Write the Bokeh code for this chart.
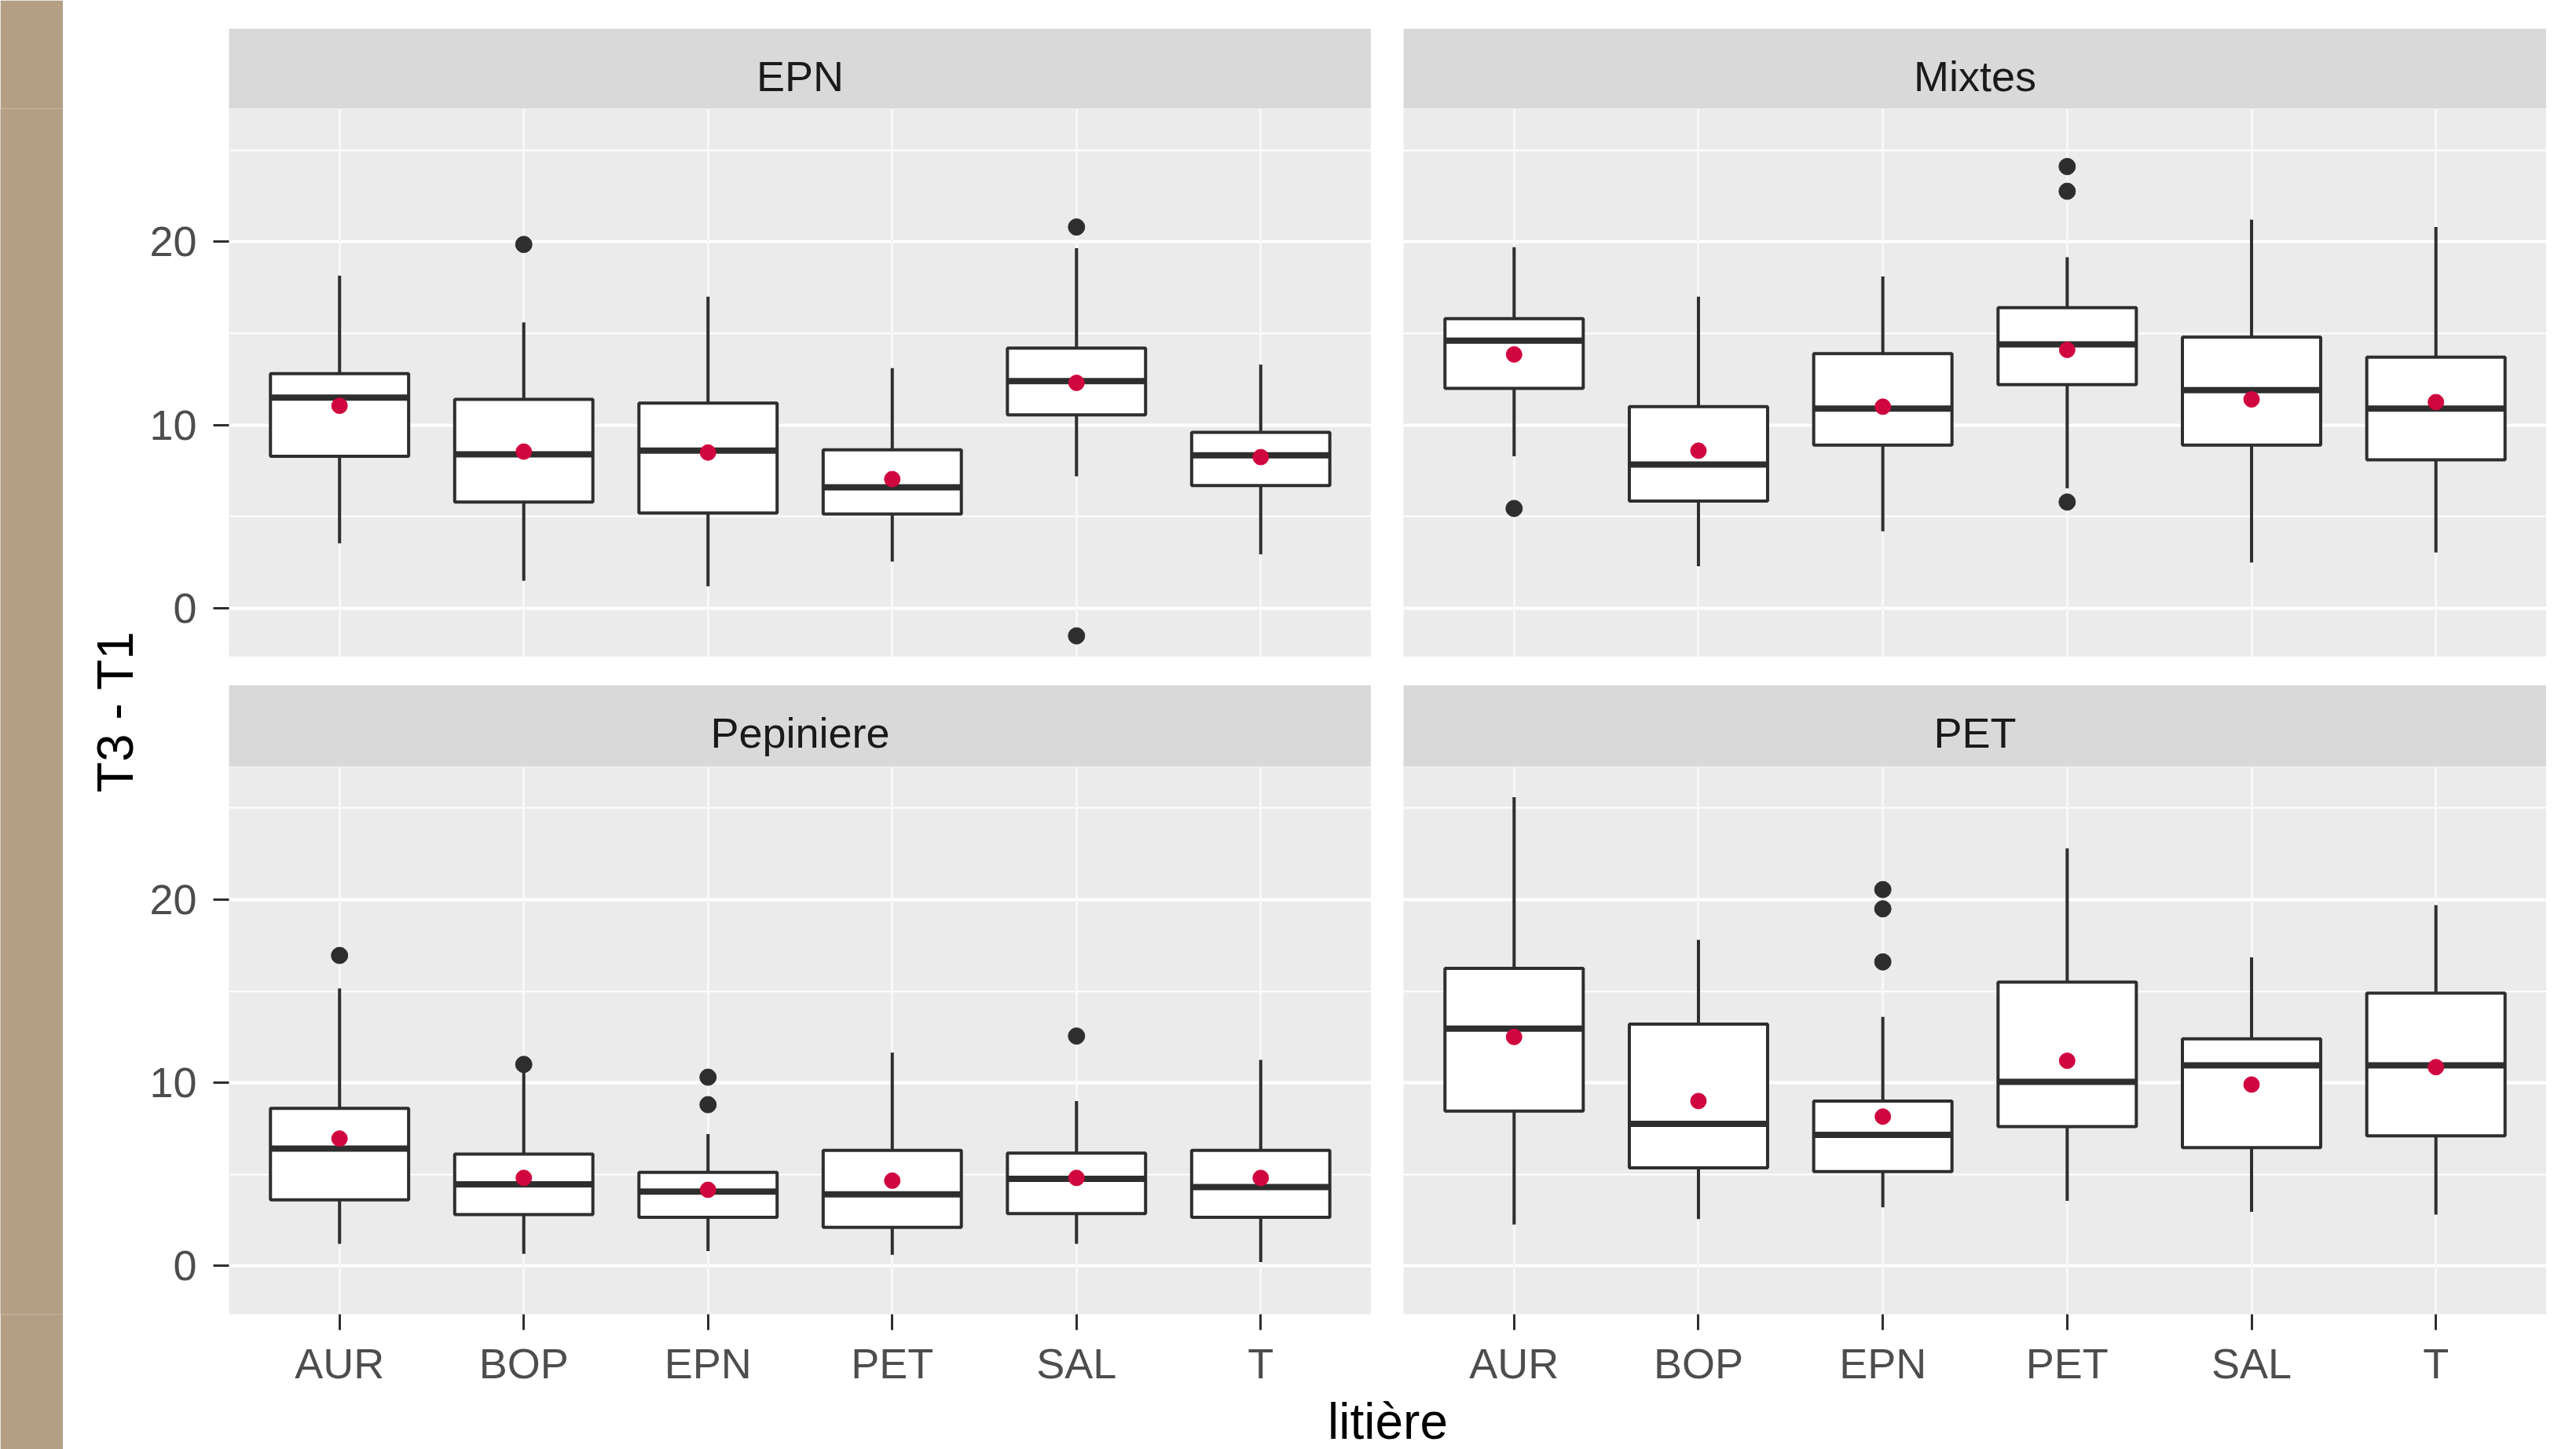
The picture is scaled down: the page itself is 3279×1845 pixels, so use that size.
from bokeh.plotting import figure
from bokeh.layouts import row, column
from bokeh.models import (ColumnDataSource, FactorRange, Range1d, SingleIntervalTicker,
                          CategoricalTicker, Grid, CategoricalAxis, LinearAxis, FixedTicker)
from bokeh.transform import dodge
from bokeh.core.properties import value
from bokeh.embed import file_html
from bokeh.resources import INLINE

# ---------------- data ----------------
cats = ["AUR", "BOP", "EPN", "PET", "SAL", "T"]
facets = ["EPN", "Mixtes", "Pepiniere", "PET"]
x_title = "litière"
y_title = "T3 - T1"

EPN_lo = [3.55, 1.5, 1.2, 2.55, 7.2, 2.95]
EPN_q1 = [8.3, 5.8, 5.2, 5.15, 10.55, 6.7]
EPN_med = [11.5, 8.4, 8.6, 6.6, 12.4, 8.35]
EPN_q3 = [12.8, 11.4, 11.2, 8.65, 14.2, 9.6]
EPN_hi = [18.15, 15.6, 17.0, 13.1, 19.65, 13.3]
EPN_mean = [11.05, 8.55, 8.5, 7.05, 12.3, 8.25]
EPN_out_cat = ["BOP", "SAL", "SAL"]
EPN_out_val = [19.85, 20.8, -1.5]

MIX_lo = [8.3, 2.3, 4.2, 6.55, 2.5, 3.05]
MIX_q1 = [12.0, 5.85, 8.9, 12.2, 8.9, 8.1]
MIX_med = [14.6, 7.85, 10.9, 14.4, 11.9, 10.9]
MIX_q3 = [15.8, 11.0, 13.9, 16.4, 14.8, 13.7]
MIX_hi = [19.7, 17.0, 18.1, 19.15, 21.2, 20.8]
MIX_mean = [13.85, 8.6, 11.0, 14.1, 11.4, 11.25]
MIX_out_cat = ["AUR", "PET", "PET", "PET"]
MIX_out_val = [5.45, 24.1, 22.75, 5.8]

PEP_lo = [1.2, 0.65, 0.8, 0.6, 1.2, 0.2]
PEP_q1 = [3.6, 2.8, 2.65, 2.1, 2.85, 2.65]
PEP_med = [6.4, 4.45, 4.05, 3.9, 4.75, 4.3]
PEP_q3 = [8.6, 6.1, 5.1, 6.3, 6.15, 6.3]
PEP_hi = [15.15, 10.6, 7.2, 11.65, 9.0, 11.25]
PEP_mean = [6.95, 4.8, 4.15, 4.65, 4.8, 4.8]
PEP_out_cat = ["AUR", "BOP", "EPN", "EPN", "SAL"]
PEP_out_val = [16.95, 11.0, 10.3, 8.8, 12.55]

PET_lo = [2.25, 2.55, 3.2, 3.55, 2.95, 2.8]
PET_q1 = [8.45, 5.35, 5.15, 7.6, 6.45, 7.1]
PET_med = [12.95, 7.75, 7.15, 10.05, 10.95, 10.95]
PET_q3 = [16.25, 13.2, 9.0, 15.5, 12.4, 14.9]
PET_hi = [25.6, 17.8, 13.6, 22.8, 16.85, 19.7]
PET_mean = [12.5, 9.0, 8.15, 11.2, 9.9, 10.85]
PET_out_cat = ["EPN", "EPN", "EPN"]
PET_out_val = [20.55, 19.5, 16.6]

# ---------------- style / layout ----------------
FONT = "Liberation Sans"
PANEL_BG = "#ebebeb"
STRIP_BG = "#d9d9d9"
BOX_COL = "#2e2e2e"
MEAN_COL = "#d0063e"
BROWN = "#b49f84"

BAND_W = 80         # brown side band
YT_B, YT_F = 100, 1 # y-title figure: left border (axis title) + tiny frame
L_BORDER = 110      # left border (y axis) of left panels
GAP = 41            # gap between columns
FW_L, FW_R = 1454, 1455
TOP_BAND = 3
STRIP_H1, STRIP_TOP1 = 102, 33
PANEL_H1 = 698
STRIP_H2, STRIP_TOP2 = 104, 36
PANEL_H2, BOTTOM_B = 697, 100
XT_H = 72
TOTAL_H = (TOP_BAND + STRIP_TOP1 + STRIP_H1 + PANEL_H1 + STRIP_TOP2 + STRIP_H2 + PANEL_H2
           + BOTTOM_B + XT_H)
TOTAL_W = L_BORDER + FW_L + GAP + FW_R
RIGHT_W = 3279 - BAND_W - YT_B - YT_F

y_range = Range1d(-2.65, 27.25)


def base_fig(fw, fh, left, top, bottom, border="white", **kw):
    p = figure(frame_width=fw, frame_height=fh, min_border_left=left, min_border_right=0,
               min_border_top=top, min_border_bottom=bottom,
               x_axis_location=None, y_axis_location=None, toolbar_location=None,
               output_backend="svg", border_fill_color=border, outline_line_color=None, **kw)
    p.center = [r for r in p.center if not isinstance(r, Grid)]
    return p


def make_strip(label, fw, fh, left, top, ypos):
    s = base_fig(fw, fh, left, top, 0, x_range=Range1d(0, 1), y_range=Range1d(0, 1),
                 background_fill_color=STRIP_BG)
    s.text(x=[0.5], y=[ypos], text=[label], text_align="center", text_baseline="middle",
           text_font=value(FONT), text_font_size="54px", text_color="#1a1a1a")
    return s


def make_panel(lo, q1, med, q3, hi, mean, out_cat, out_val, fw, fh, left, bottom, show_x, show_y):
    xr = FactorRange(factors=cats, range_padding=0.1, range_padding_units="absolute")
    p = base_fig(fw, fh, left, 0, bottom, x_range=xr, y_range=y_range,
                 background_fill_color=PANEL_BG)
    yticker = SingleIntervalTicker(interval=10, num_minor_ticks=2)
    xticker = CategoricalTicker()
    p.add_layout(Grid(dimension=1, ticker=yticker, grid_line_color="white", grid_line_width=4,
                      minor_grid_line_color="white", minor_grid_line_width=2))
    p.add_layout(Grid(dimension=0, ticker=xticker, grid_line_color="#f8f8f8", grid_line_width=3))
    if show_y:
        ya = LinearAxis(ticker=yticker, axis_line_color=None, major_tick_line_color=BOX_COL,
                        major_tick_line_width=3, major_tick_out=20, major_tick_in=0,
                        minor_tick_line_color=None, major_label_standoff=21,
                        major_label_text_font=FONT, major_label_text_font_size="54px",
                        major_label_text_color="#4d4d4d")
        p.add_layout(ya, "left")
    if show_x:
        xa = CategoricalAxis(ticker=xticker, axis_line_color=None, major_tick_line_color=BOX_COL,
                             major_tick_line_width=3, major_tick_out=20, major_tick_in=0,
                             minor_tick_line_color=None, major_label_standoff=12,
                             major_label_text_font=FONT, major_label_text_font_size="54px",
                             major_label_text_color="#4d4d4d")
        p.add_layout(xa, "below")

    src = ColumnDataSource(dict(cat=cats, lo=lo, q1=q1, med=med, q3=q3, hi=hi, mean=mean))
    p.segment(x0="cat", y0="lo", x1="cat", y1="hi", source=src, line_color=BOX_COL, line_width=4)
    p.vbar(x="cat", bottom="q1", top="q3", width=0.75, source=src, fill_color="white",
           line_color=BOX_COL, line_width=4)
    p.segment(x0=dodge("cat", -0.375, range=xr), y0="med", x1=dodge("cat", 0.375, range=xr),
              y1="med", source=src, line_color=BOX_COL, line_width=8)
    osrc = ColumnDataSource(dict(cat=out_cat, val=out_val))
    p.scatter(x="cat", y="val", source=osrc, size=21, fill_color=BOX_COL, line_color=BOX_COL)
    p.scatter(x="cat", y="mean", source=src, size=20, fill_color=MEAN_COL, line_color=MEAN_COL)
    return p


# geometry of the y-title column (frame = panel area, strips excluded)
yt_top = TOP_BAND + STRIP_TOP1 + STRIP_H1
yt_bottom = BOTTOM_B + XT_H
yt_frame = TOTAL_H - yt_top - yt_bottom

# brown top line and side band
top_band = base_fig(RIGHT_W, TOP_BAND, 0, 0, 0, x_range=Range1d(0, 1), y_range=Range1d(0, 1),
                    background_fill_color=BROWN)
side_band = base_fig(BAND_W, yt_frame, 0, yt_top, yt_bottom, border=BROWN,
                     x_range=Range1d(0, 1), y_range=Range1d(0, 1), background_fill_color=BROWN)

# strips
s_tl = make_strip(facets[0], FW_L, STRIP_H1, L_BORDER, STRIP_TOP1, 0.41)
s_tr = make_strip(facets[1], FW_R, STRIP_H1, GAP, STRIP_TOP1, 0.41)
s_bl = make_strip(facets[2], FW_L, STRIP_H2, L_BORDER, STRIP_TOP2, 0.42)
s_br = make_strip(facets[3], FW_R, STRIP_H2, GAP, STRIP_TOP2, 0.42)

# panels
p_tl = make_panel(EPN_lo, EPN_q1, EPN_med, EPN_q3, EPN_hi, EPN_mean, EPN_out_cat, EPN_out_val,
                  FW_L, PANEL_H1, L_BORDER, 0, False, True)
p_tr = make_panel(MIX_lo, MIX_q1, MIX_med, MIX_q3, MIX_hi, MIX_mean, MIX_out_cat, MIX_out_val,
                  FW_R, PANEL_H1, GAP, 0, False, False)
p_bl = make_panel(PEP_lo, PEP_q1, PEP_med, PEP_q3, PEP_hi, PEP_mean, PEP_out_cat, PEP_out_val,
                  FW_L, PANEL_H2, L_BORDER, BOTTOM_B, True, True)
p_br = make_panel(PET_lo, PET_q1, PET_med, PET_q3, PET_hi, PET_mean, PET_out_cat, PET_out_val,
                  FW_R, PANEL_H2, GAP, BOTTOM_B, True, False)

# x title
xt = base_fig(TOTAL_W, XT_H, 0, 0, 0, x_range=Range1d(0, TOTAL_W), y_range=Range1d(0, XT_H),
              background_fill_color="white")
panels_center = L_BORDER + (FW_L + GAP + FW_R) / 2
xt.text(x=[panels_center], y=[XT_H - 36], text=[x_title], text_align="center",
        text_baseline="middle", text_font=value(FONT), text_font_size="64px", text_color="black")

# y title as an axis label, centred on the panel area
yt = base_fig(YT_F, yt_frame, YT_B, yt_top, yt_bottom, x_range=Range1d(0, 1),
              y_range=Range1d(0, 1), background_fill_color="white")
yt_axis = LinearAxis(ticker=FixedTicker(ticks=[]), axis_line_color=None,
                     major_tick_line_color=None, minor_tick_line_color=None,
                     major_tick_out=0, major_tick_in=0, minor_tick_out=0,
                     major_label_text_font_size="0px", major_label_standoff=0,
                     axis_label=y_title, axis_label_standoff=-2,
                     axis_label_text_font=FONT, axis_label_text_font_size="64px",
                     axis_label_text_font_style="normal", axis_label_text_color="black")
yt.add_layout(yt_axis, "left")

layout = row(side_band, yt,
             column(top_band, row(s_tl, s_tr), row(p_tl, p_tr), row(s_bl, s_br),
                    row(p_bl, p_br), xt))

open("out.html", "w").write(file_html(layout, INLINE))
